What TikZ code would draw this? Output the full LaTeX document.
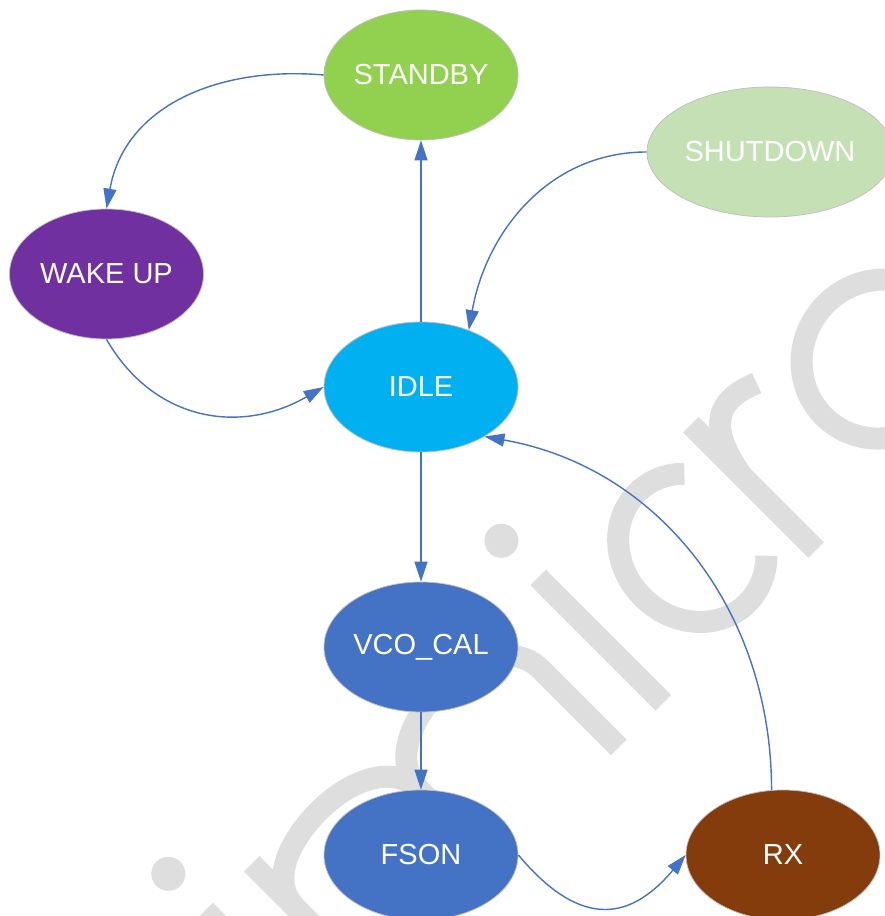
\documentclass[tikz,border=0pt]{standalone}
\usepackage{fontspec}
\setmainfont{Liberation Sans}
\usetikzlibrary{shapes.geometric,arrows.meta}
\definecolor{wm}{RGB}{222,222,222}
\definecolor{arrowblue}{RGB}{68,114,196}
\definecolor{cstandby}{RGB}{146,208,80}
\definecolor{cshutdown}{RGB}{197,224,180}
\definecolor{cwake}{RGB}{112,48,160}
\definecolor{cidle}{RGB}{0,176,240}
\definecolor{cblue}{RGB}{68,114,196}
\definecolor{crx}{RGB}{132,60,12}
\definecolor{cborder}{RGB}{191,191,191}
\tikzset{
  state/.style={ellipse, draw=cborder, line width=0.75pt, minimum width=194pt, minimum height=130pt, inner sep=0pt, text=white, font=\fontsize{29}{34}\selectfont},
  conn/.style={draw=arrowblue, line width=1.4pt, -{Triangle[length=20pt,width=13pt]}},
  wmstroke/.style={draw=wm, line width=22pt}
}
\begin{document}
\begin{tikzpicture}[x=1pt,y=1pt]
\clip (0,0) rectangle (885,916);
\fill[white] (0,0) rectangle (885,916);
% watermark
\begin{scope}[shift={(663.3,213.3)}, rotate=45]
  \draw[wmstroke] (-471,0) -- (-471,177);
  \fill[wm] (-471,229) circle (17);
  \draw[wmstroke] (-405,0) -- (-405,177);
  \draw[wmstroke] (-405,115) to[out=90,in=180] (-320,167) to[out=0,in=90] (-234,110) -- (-234,0);
  \draw[wmstroke] (-234,110) to[out=90,in=180] (-149,167) to[out=0,in=90] (-63,110) -- (-63,0);
  \draw[wmstroke] (0,0) -- (0,177);
  \fill[wm] (0,229) circle (17);
  \draw[wmstroke] ([shift={(48:70 and 78)}]130,89) arc[start angle=48, end angle=312, x radius=70, y radius=78];
  \draw[wmstroke] (216,0) -- (216,177);
  \draw[wmstroke] (216,105) to[out=80,in=180] (262,167) to[out=0,in=160] (292,160);
  \draw[wmstroke] (397,89) ellipse[x radius=81, y radius=78];
\end{scope}
% nodes
\node[state, fill=cstandby] (standby) at (421,841) {STANDBY};
\node[state, fill=cshutdown, minimum width=246pt] (shutdown) at (770,764) {SHUTDOWN};
\node[state, fill=cwake] (wakeup) at (106.5,642) {WAKE UP};
\node[state, fill=cidle] (idle) at (421,529) {IDLE};
\node[state, fill=cblue] (vco) at (421,269) {VCO\_CAL};
\node[state, fill=cblue] (fson) at (421,61) {FSON};
\node[state, fill=crx] (rx) at (783,61) {RX};
% connectors
\draw[conn] (standby.west) to[out=175,in=80,looseness=1.05] (wakeup.north);
\draw[conn] (idle.north) -- (standby.south);
\draw[conn] (shutdown.west) to[out=180,in=80] (idle.50);
\draw[conn] (wakeup.south) to[out=-60,in=-150,looseness=1.1] (idle.west);
\draw[conn] (idle.south) -- (vco.north);
\draw[conn] (vco.south) -- (fson.north);
\draw[conn] (fson.east) to[out=-50,in=-130,looseness=1.4] (rx.west);
\draw[conn] (rx.100) to[out=90,in=-10] (idle.-38);
\end{tikzpicture}
\end{document}
